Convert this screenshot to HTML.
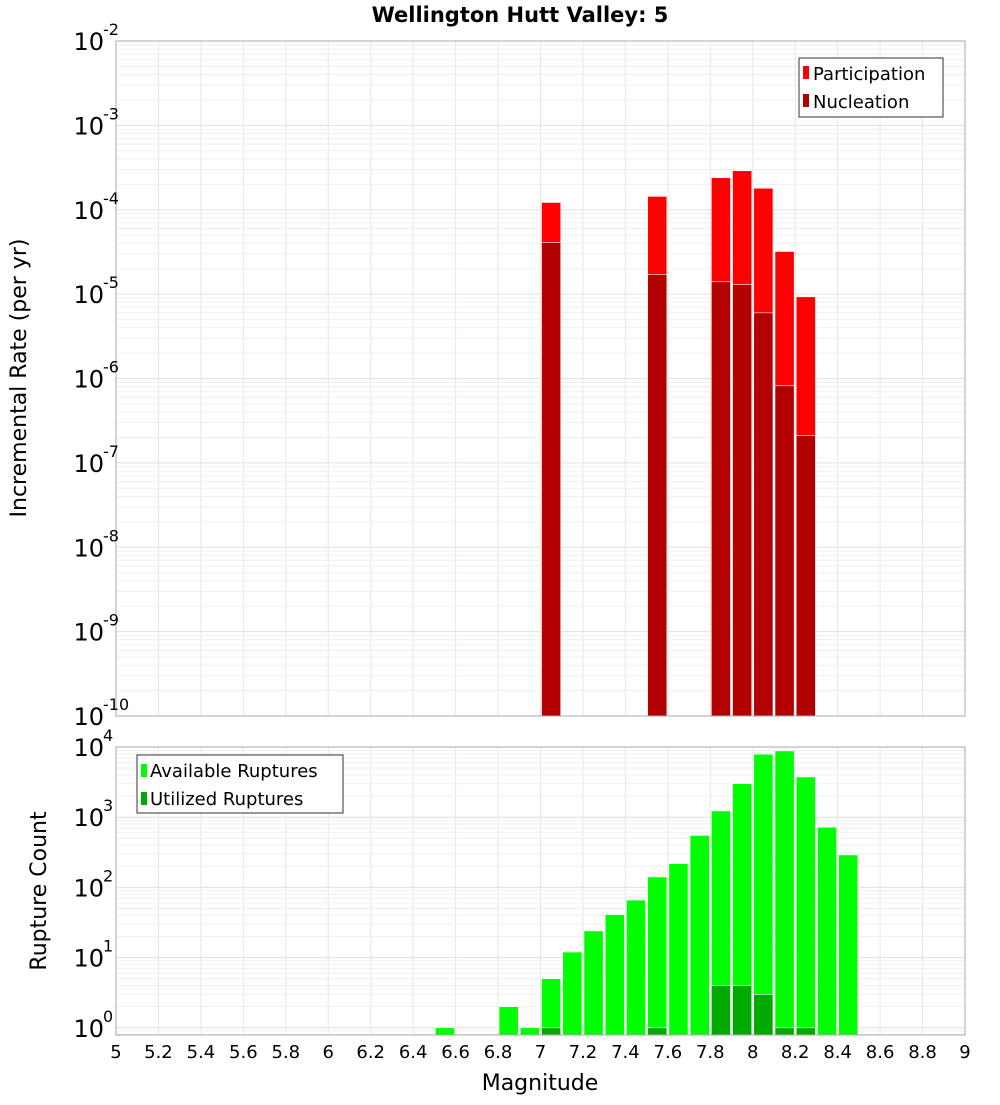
<!DOCTYPE html>
<html><head><meta charset="utf-8">
<style>
body{margin:0;background:#fff;font-family:"Liberation Sans","DejaVu Sans",sans-serif;}
svg text{font-family:"DejaVu Sans","Liberation Sans",sans-serif;}
</style></head>
<body>
<svg id="chart" width="1000" height="1100" xmlns="http://www.w3.org/2000/svg">
<text x="520" y="22" text-anchor="middle" font-size="21" font-weight="bold">Wellington Hutt Valley: 5</text>
<g id="top"></g>
<g id="bot"></g>
<text x="540" y="1090" text-anchor="middle" font-size="22">Magnitude</text>
<text transform="translate(26,378) rotate(-90)" text-anchor="middle" font-size="22">Incremental Rate (per yr)</text>
<text transform="translate(46,891) rotate(-90)" text-anchor="middle" font-size="22">Rupture Count</text>
<g>
<rect x="799" y="58" width="144" height="59" fill="#fff" stroke="#333"/>
<rect x="803" y="66" width="6" height="13" fill="#ff0000"/>
<text x="813" y="80" font-size="18">Participation</text>
<rect x="803" y="94" width="6" height="13" fill="#b30000"/>
<text x="813" y="108" font-size="18">Nucleation</text>
</g>
<g>
<rect x="137" y="755" width="206" height="58" fill="#fff" stroke="#333"/>
<rect x="141" y="764" width="6" height="13" fill="#00ff00"/>
<text x="150" y="777" font-size="18">Available Ruptures</text>
<rect x="141" y="792" width="6" height="13" fill="#00aa00"/>
<text x="150" y="805" font-size="18">Utilized Ruptures</text>
</g>
</svg>
<script>
const topMags=[7.05,7.55,7.85,7.95,8.05,8.15,8.25];
const participation=[1.22e-4,1.44e-4,2.4e-4,2.9e-4,1.8e-4,3.2e-5,9.3e-6];
const nucleation=[4.1e-5,1.7e-5,1.4e-5,1.3e-5,6e-6,8.2e-7,2.1e-7];
const botMags=[6.55,6.85,6.95,7.05,7.15,7.25,7.35,7.45,7.55,7.65,7.75,7.85,7.95,8.05,8.15,8.25,8.35,8.45];
const available=[1,2,1,5,12,24,41,66,141,218,550,1230,3000,7900,8800,3750,720,290];
const utilMags=[7.05,7.55,7.85,7.95,8.05,8.15,8.25];
const utilized=[1,1,4,4,3,1,1];
const xTicks=[5,5.2,5.4,5.6,5.8,6,6.2,6.4,6.6,6.8,7,7.2,7.4,7.6,7.8,8,8.2,8.4,8.6,8.8,9];
const topExp=[-2,-3,-4,-5,-6,-7,-8,-9,-10];
const botExp=[0,1,2,3,4];

const NS="http://www.w3.org/2000/svg";
const L=116,R=965;
const X=m=>L+(m-5)*(R-L)/4;
const TT=41,TB=716;
const Yt=v=>TT+(-2-Math.log10(v))*(TB-TT)/8;
const BT=747,BB=1035;
const Yb=v=>Math.min(BB,BT+(4-Math.log10(v))*70.2);
function el(p,tag,a){const e=document.createElementNS(NS,tag);for(const k in a)e.setAttribute(k,a[k]);p.appendChild(e);return e;}
function grid(g,top,bot,Y,e0,e1){
  for(const t of xTicks){const l=el(g,'line',{x1:X(t),x2:X(t),y1:top,y2:bot,stroke:'#e6e6e6'});
    
    }
  for(let e=e0;e<e1;e++)for(let k=1;k<10;k++){const y=Y(k*Math.pow(10,e));if(y<top||y>bot)continue;
    const l=el(g,'line',{x1:L,x2:R,y1:y,y2:y,stroke:k==1?'#e0e0e0':'#efefef'});
    
    }
}
function bars(g,mags,vals,Y,base,fill,name){
  mags.forEach((m,i)=>{const y=Y(vals[i]);
    const r=el(g,'rect',{x:X(m-0.05)+1,y:y,width:X(m+0.05)-X(m-0.05)-2,height:base-y,fill:fill,stroke:'#fff','stroke-width':0.6});
    
    });
}
function frame(g,top,bot,name){const r=el(g,'rect',{x:L,y:top,width:R-L,height:bot-top,fill:'none',stroke:'#aaa'});
  
  }
function ylab(g,y,e,name){
  const t=el(g,'text',{x:104,y:y+9,'text-anchor':'end','font-size':24});
  
  
  t.textContent='10';
  const s=el(g,'text',{x:103,y:y-6,'font-size':16});
  
  
  s.textContent=String(e);
}
const gt=document.getElementById('top');
grid(gt,TT,TB,Yt,-10,-2);
bars(gt,topMags,participation,Yt,TB,'#ff0000','participation-bar');
bars(gt,topMags,nucleation,Yt,TB,'#b30000','nucleation-bar');
frame(gt,TT,TB,'top-plot-frame');
topExp.forEach(e=>ylab(gt,Yt(Math.pow(10,e)),e,'top-y-tick-label'));
const gb=document.getElementById('bot');
grid(gb,BT,BB,Yb,-1,4);
bars(gb,botMags,available,Yb,BB,'#00ff00','available-bar');
bars(gb,utilMags,utilized,Yb,BB,'#00aa00','utilized-bar');
frame(gb,BT,BB,'bottom-plot-frame');
botExp.forEach(e=>ylab(gb,Yb(Math.pow(10,e)),e,'bottom-y-tick-label'));
xTicks.forEach(t=>{const tx=el(gb,'text',{x:X(t),y:1058,'text-anchor':'middle','font-size':18});
  
  
  tx.textContent=String(t);});
</script>
</body></html>
